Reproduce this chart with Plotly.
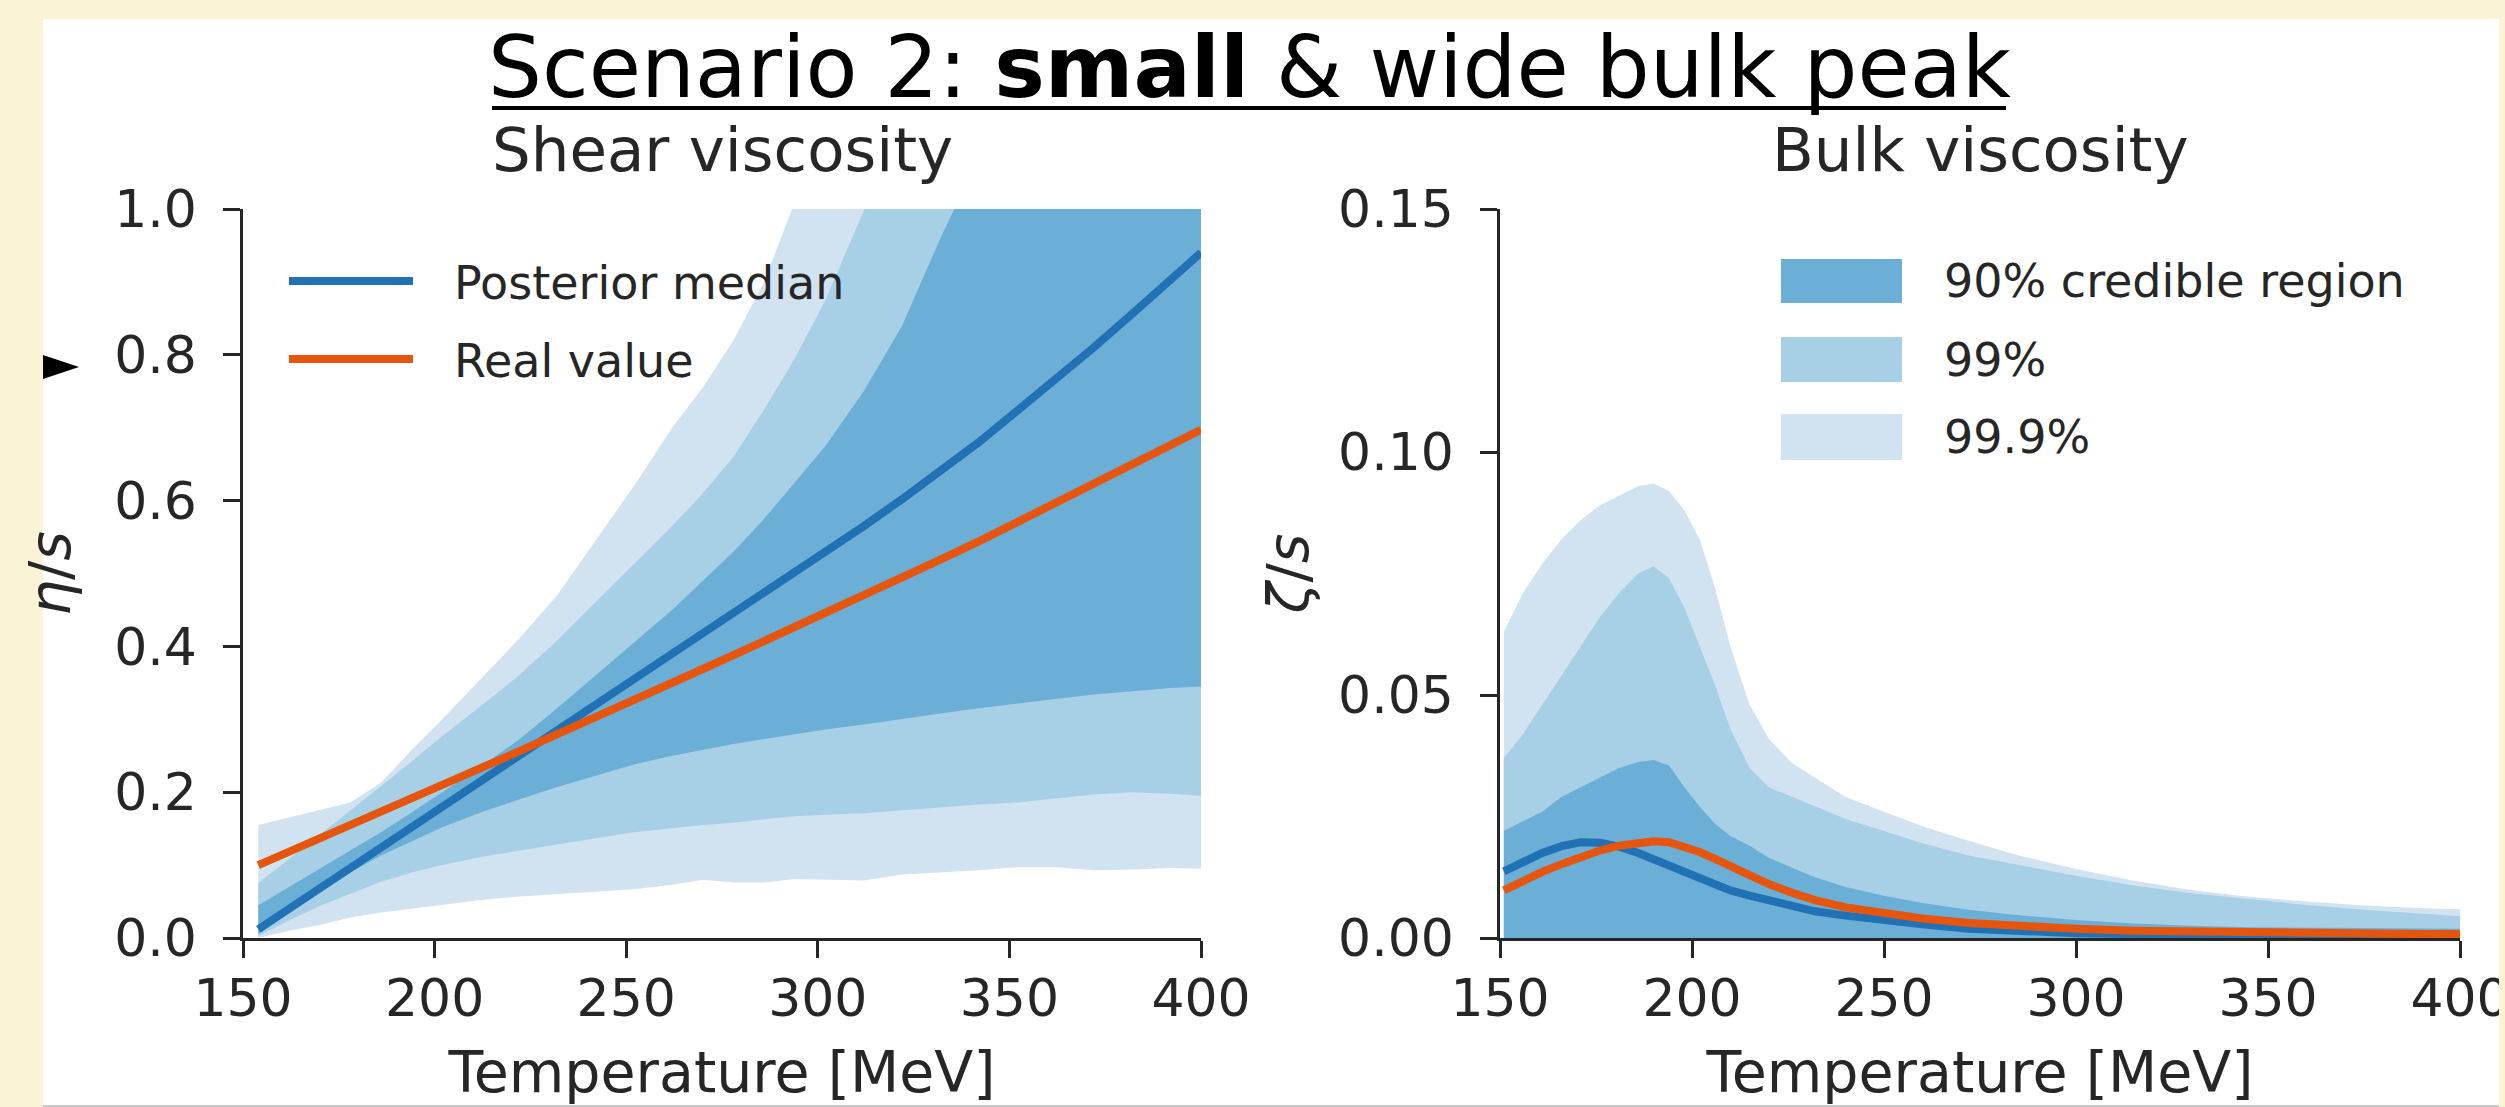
import plotly.graph_objects as go

# ---------------- data ----------------
# Shear viscosity panel (temperature grid in MeV)
T_shear = [154, 162, 170, 178, 186, 194, 202, 212, 222, 232, 242, 252, 262, 270,
           278, 286, 294, 302, 312, 322, 332, 342, 352, 362, 372, 382, 392, 400]
shear_median = [0.012, 0.040, 0.068, 0.096, 0.124, 0.152, 0.180, 0.215, 0.250, 0.285,
                0.320, 0.355, 0.389, 0.416, 0.444, 0.471, 0.499, 0.528, 0.565, 0.602,
                0.640, 0.680, 0.723, 0.766, 0.810, 0.856, 0.903, 0.940]
shear_real = [0.100, 0.118, 0.136, 0.155, 0.173, 0.191, 0.210, 0.233, 0.256, 0.279,
              0.303, 0.326, 0.350, 0.369, 0.388, 0.407, 0.426, 0.445, 0.470, 0.494,
              0.519, 0.544, 0.570, 0.596, 0.622, 0.649, 0.676, 0.697]
shear_90_hi = [0.045, 0.070, 0.095, 0.120, 0.145, 0.172, 0.200, 0.235, 0.272, 0.315,
               0.360, 0.405, 0.450, 0.490, 0.530, 0.575, 0.625, 0.675, 0.750, 0.840,
               0.960, 1.070, 1.180, 1.290, 1.400, 1.510, 1.620, 1.700]
shear_90_lo = [0.005, 0.035, 0.065, 0.090, 0.113, 0.133, 0.152, 0.172, 0.190, 0.207,
               0.223, 0.238, 0.250, 0.258, 0.266, 0.273, 0.280, 0.286, 0.293, 0.300,
               0.308, 0.315, 0.322, 0.328, 0.334, 0.339, 0.343, 0.345]
shear_99_hi = [0.075, 0.108, 0.142, 0.175, 0.208, 0.242, 0.277, 0.318, 0.360, 0.408,
               0.460, 0.512, 0.565, 0.610, 0.660, 0.725, 0.795, 0.875, 1.000, 1.120,
               1.240, 1.360, 1.480, 1.600, 1.720, 1.840, 1.960, 2.050]
shear_99_lo = [0.003, 0.024, 0.044, 0.060, 0.077, 0.090, 0.100, 0.111, 0.120, 0.128,
               0.137, 0.145, 0.151, 0.155, 0.158, 0.163, 0.167, 0.169, 0.171, 0.174,
               0.179, 0.183, 0.186, 0.191, 0.197, 0.200, 0.198, 0.195]
shear_999_hi = [0.155, 0.165, 0.175, 0.186, 0.213, 0.258, 0.300, 0.355, 0.410, 0.470,
                0.545, 0.620, 0.700, 0.755, 0.820, 0.900, 1.010, 1.100, 1.200, 1.300,
                1.400, 1.500, 1.600, 1.700, 1.800, 1.900, 2.000, 2.080]
shear_999_lo = [0.000, 0.010, 0.018, 0.028, 0.035, 0.040, 0.045, 0.052, 0.057, 0.061,
                0.064, 0.067, 0.073, 0.080, 0.076, 0.076, 0.081, 0.080, 0.079, 0.087,
                0.090, 0.093, 0.097, 0.097, 0.093, 0.094, 0.096, 0.095]

# Bulk viscosity panel
T_bulk = [151, 156, 161, 166, 171, 176, 181, 186, 190, 194, 198, 202, 206, 210, 215,
          220, 226, 232, 240, 250, 260, 272, 285, 300, 315, 330, 345, 360, 375, 390, 400]
bulk_median = [0.0137, 0.0157, 0.0175, 0.0189, 0.0197, 0.0196, 0.0188, 0.0175, 0.0162,
               0.0148, 0.0134, 0.0122, 0.0110, 0.0098, 0.0087, 0.0077, 0.0065, 0.0055,
               0.0046, 0.0036, 0.0028, 0.0019, 0.0014, 0.0010, 0.0008, 0.0006, 0.0005,
               0.0005, 0.0004, 0.0004, 0.0004]
bulk_real = [0.0098, 0.0118, 0.0136, 0.0152, 0.0167, 0.0180, 0.0190, 0.0197, 0.0199,
             0.0197, 0.0189, 0.0177, 0.0163, 0.0147, 0.0128, 0.0111, 0.0093, 0.0078,
             0.0063, 0.0050, 0.0040, 0.0031, 0.0024, 0.0019, 0.0015, 0.0013, 0.0011,
             0.0010, 0.0009, 0.0008, 0.0008]
bulk_90_hi = [0.0220, 0.0240, 0.0260, 0.0290, 0.0310, 0.0330, 0.0350, 0.0362, 0.0366,
              0.0355, 0.0310, 0.0270, 0.0235, 0.0210, 0.0190, 0.0165, 0.0145, 0.0125,
              0.0105, 0.0087, 0.0072, 0.0058, 0.0047, 0.0037, 0.0030, 0.0025, 0.0022,
              0.0021, 0.0020, 0.0019, 0.0019]
bulk_99_hi = [0.0370, 0.0420, 0.0480, 0.0540, 0.0600, 0.0660, 0.0710, 0.0750, 0.0765,
              0.0740, 0.0680, 0.0600, 0.0520, 0.0430, 0.0350, 0.0310, 0.0290, 0.0270,
              0.0245, 0.0220, 0.0195, 0.0170, 0.0150, 0.0128, 0.0108, 0.0092, 0.0080,
              0.0068, 0.0058, 0.0050, 0.0045]
bulk_999_hi = [0.0630, 0.0710, 0.0770, 0.0820, 0.0860, 0.0890, 0.0910, 0.0930, 0.0935,
               0.0920, 0.0880, 0.0820, 0.0720, 0.0600, 0.0480, 0.0410, 0.0360, 0.0330,
               0.0290, 0.0260, 0.0230, 0.0200, 0.0170, 0.0142, 0.0118, 0.0099, 0.0085,
               0.0075, 0.0067, 0.0061, 0.0059]
bulk_lo = [0.0] * len(T_bulk)

x_ticks = [150, 200, 250, 300, 350, 400]
shear_ticks = [0.0, 0.2, 0.4, 0.6, 0.8, 1.0]
bulk_ticks = [0.00, 0.05, 0.10, 0.15]

band_names = ["90% credible region", "99%", "99.9%"]
line_names = ["Posterior median", "Real value"]

# ---------------- styles ----------------
W, H = 2505, 1107
CREAM = "#FBF3D6"
INK = "#262626"
C90, C99, C999 = "#6baed6", "#a7cfe5", "#d1e2f1"
BLUE, ORANGE = "#2171b5", "#e6550d"
FONT = "DejaVu Sans"
LW = 8


def PX(x):
    return x / W


def PY(y):
    return 1 - y / H


def band(T, hi, lo, color, name, xa, ya):
    return go.Scatter(x=list(T) + list(T)[::-1], y=list(hi) + list(lo)[::-1],
                      fill="toself", fillcolor=color, line=dict(width=0), mode="lines",
                      name=name, hoverinfo="skip", xaxis=xa, yaxis=ya, showlegend=False)


def line(T, y, color, name, xa, ya):
    return go.Scatter(x=T, y=y, mode="lines", line=dict(color=color, width=LW),
                      name=name, xaxis=xa, yaxis=ya, showlegend=False)


fig = go.Figure()
fig.add_trace(band(T_shear, shear_999_hi, shear_999_lo, C999, band_names[2], "x", "y"))
fig.add_trace(band(T_shear, shear_99_hi, shear_99_lo, C99, band_names[1], "x", "y"))
fig.add_trace(band(T_shear, shear_90_hi, shear_90_lo, C90, band_names[0], "x", "y"))
fig.add_trace(line(T_shear, shear_median, BLUE, line_names[0], "x", "y"))
fig.add_trace(line(T_shear, shear_real, ORANGE, line_names[1], "x", "y"))

fig.add_trace(band(T_bulk, bulk_999_hi, bulk_lo, C999, band_names[2], "x2", "y2"))
fig.add_trace(band(T_bulk, bulk_99_hi, bulk_lo, C99, band_names[1], "x2", "y2"))
fig.add_trace(band(T_bulk, bulk_90_hi, bulk_lo, C90, band_names[0], "x2", "y2"))
fig.add_trace(line(T_bulk, bulk_median, BLUE, line_names[0], "x2", "y2"))
fig.add_trace(line(T_bulk, bulk_real, ORANGE, line_names[1], "x2", "y2"))

axis_common = dict(showline=True, linecolor=INK, linewidth=2.5, ticks="outside",
                   ticklen=17, tickwidth=2.5, tickcolor=INK, showgrid=False,
                   zeroline=False, automargin=False, ticklabeloverflow="allow",
                   tickfont=dict(family=FONT, size=52, color=INK))
xtitle = dict(text="Temperature [MeV]", font=dict(family=FONT, size=57, color=INK),
              standoff=25)

ydom = [PY(938), PY(209)]
fig.update_layout(
    width=W, height=H, autosize=False,
    margin=dict(l=0, r=0, t=0, b=0, pad=0, autoexpand=False),
    paper_bgcolor=CREAM, plot_bgcolor="rgba(0,0,0,0)",
    showlegend=False,
    font=dict(family=FONT, color=INK),
    xaxis=dict(domain=[PX(243), PX(1201)], range=[150, 400], anchor="y",
               tickvals=x_ticks, ticktext=[str(v) for v in x_ticks],
               ticklabelstandoff=-4, title=xtitle, **axis_common),
    yaxis=dict(domain=ydom, range=[0, 1], anchor="x",
               tickvals=shear_ticks, ticktext=[f"{v:.1f}" for v in shear_ticks],
               ticklabelstandoff=16,
               title=dict(text="<i>η</i>/<i>s</i>", font=dict(family=FONT, size=57, color=INK),
                          standoff=26), **axis_common),
    xaxis2=dict(domain=[PX(1500), PX(2460)], range=[150, 400], anchor="y2",
                tickvals=x_ticks, ticktext=[str(v) for v in x_ticks],
                ticklabelstandoff=-4, title=xtitle, **axis_common),
    yaxis2=dict(domain=ydom, range=[0, 0.15], anchor="x2",
                tickvals=bulk_ticks, ticktext=[f"{v:.2f}" for v in bulk_ticks],
                ticklabelstandoff=16,
                title=dict(text="<i>ζ</i>/<i>s</i>", font=dict(family=FONT, size=57, color=INK),
                           standoff=12), **axis_common),
)

shapes = [
    # white slide area
    dict(type="rect", xref="paper", yref="paper", x0=PX(43), x1=PX(2499), y0=PY(1106), y1=PY(19),
         fillcolor="white", line=dict(width=0), layer="below"),
    dict(type="line", xref="paper", yref="paper", x0=PX(43), x1=PX(2499), y0=PY(1106), y1=PY(1106),
         line=dict(color="#c8c8c8", width=2), layer="below"),
    # title underline
    dict(type="line", xref="paper", yref="paper", x0=PX(492), x1=PX(2006), y0=PY(108), y1=PY(108),
         line=dict(color="black", width=4), layer="above"),
    # pointer triangle
    dict(type="path", xref="paper", yref="paper",
         path=f"M {PX(43)},{PY(355)} L {PX(79)},{PY(367)} L {PX(43)},{PY(379)} Z",
         fillcolor="black", line=dict(width=0), layer="above"),
    # cream strip: the slide image is cut at its right edge, as in the reference
    dict(type="rect", xref="paper", yref="paper", x0=PX(2499), x1=1, y0=0, y1=1,
         fillcolor=CREAM, line=dict(width=0), layer="above"),
    # legend: lines
    dict(type="line", xref="paper", yref="paper", x0=PX(289), x1=PX(413), y0=PY(281), y1=PY(281),
         line=dict(color=BLUE, width=LW), layer="above"),
    dict(type="line", xref="paper", yref="paper", x0=PX(289), x1=PX(413), y0=PY(359), y1=PY(359),
         line=dict(color=ORANGE, width=LW), layer="above"),
]
for (top, bot), col in zip([(259, 303), (337, 382), (414, 460)], [C90, C99, C999]):
    shapes.append(dict(type="rect", xref="paper", yref="paper", x0=PX(1781), x1=PX(1902),
                       y0=PY(bot), y1=PY(top), fillcolor=col, line=dict(width=0), layer="above"))

annotations = [
    dict(text="Scenario 2: <b>small</b> & wide bulk peak", x=PX(1249), y=PY(67),
         font=dict(family=FONT, size=85, color="black")),
    dict(text="Shear viscosity", x=PX(722), y=PY(150), font=dict(family=FONT, size=61, color=INK)),
    dict(text="Bulk viscosity", x=PX(1980), y=PY(150), font=dict(family=FONT, size=61, color=INK)),
    dict(text=line_names[0], x=PX(452), y=PY(283), xanchor="left",
         font=dict(family=FONT, size=46, color=INK)),
    dict(text=line_names[1], x=PX(452), y=PY(361), xanchor="left",
         font=dict(family=FONT, size=46, color=INK)),
]
for name, yc in zip(band_names, [281, 360, 437]):
    annotations.append(dict(text=name, x=PX(1942), y=PY(yc), xanchor="left",
                            font=dict(family=FONT, size=46, color=INK)))
for a in annotations:
    a.update(xref="paper", yref="paper", showarrow=False, yanchor="middle")
    a.setdefault("xanchor", "center")

fig.update_layout(shapes=shapes, annotations=annotations)
fig.write_html("out.html")
